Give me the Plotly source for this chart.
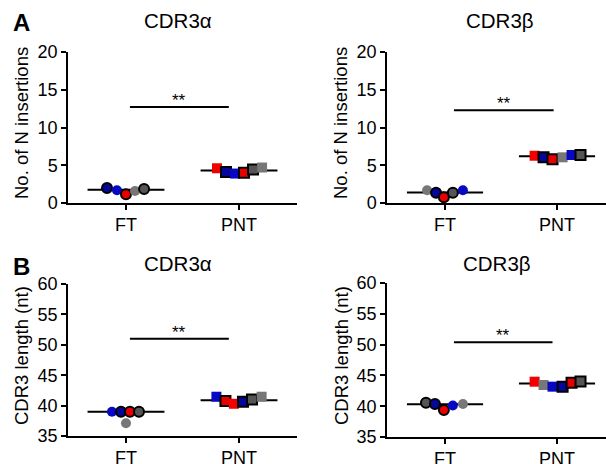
import plotly.graph_objects as go

W, H = 606, 464

# ---------------- data ----------------
categories = ["FT", "PNT"]

# Panel A left: No. of N insertions, CDR3α
a1_ft_off = [-0.168, -0.08, 0.0, 0.08, 0.16]
a1_ft_val = [2.0, 1.7, 1.15, 1.6, 1.85]
a1_ft_col = ["blue", "blue", "red", "gray", "gray"]
a1_ft_brd = [1, 0, 1, 0, 1]
a1_pnt_off = [-0.195, -0.115, -0.035, 0.044, 0.124, 0.204]
a1_pnt_val = [4.6, 4.1, 3.9, 4.0, 4.45, 4.7]
a1_pnt_col = ["red", "blue", "blue", "red", "gray", "gray"]
a1_pnt_brd = [0, 1, 0, 1, 1, 0]
a1_median = [1.75, 4.3]
a1_sig_x = [0.035, 0.91]
a1_sig_y = 12.7

# Panel A right: No. of N insertions, CDR3β
a2_ft_off = [-0.16, -0.08, -0.01, 0.07, 0.16]
a2_ft_val = [1.7, 1.35, 0.75, 1.35, 1.7]
a2_ft_col = ["gray", "blue", "red", "gray", "blue"]
a2_ft_brd = [0, 1, 1, 1, 0]
a2_pnt_off = [-0.2, -0.12, -0.04, 0.05, 0.13, 0.21]
a2_pnt_val = [6.26, 6.05, 5.8, 6.05, 6.36, 6.36]
a2_pnt_col = ["red", "blue", "red", "gray", "blue", "gray"]
a2_pnt_brd = [0, 1, 1, 0, 0, 1]
a2_median = [1.4, 6.2]
a2_sig_x = [0.08, 0.97]
a2_sig_y = 12.3

# Panel B left: CDR3 length, CDR3α
b1_ft_off = [-0.124, -0.044, 0.0, 0.035, 0.115]
b1_ft_val = [39.0, 39.0, 37.1, 39.0, 39.0]
b1_ft_col = ["blue", "blue", "gray", "red", "gray"]
b1_ft_brd = [0, 1, 0, 1, 1]
b1_pnt_off = [-0.2, -0.12, -0.045, 0.035, 0.115, 0.2]
b1_pnt_val = [41.46, 40.76, 40.3, 40.65, 41.0, 41.46]
b1_pnt_col = ["blue", "red", "red", "blue", "gray", "gray"]
b1_pnt_brd = [0, 1, 0, 1, 1, 0]
b1_median = [39.0, 40.9]
b1_sig_x = [0.035, 0.91]
b1_sig_y = 51.0

# Panel B right: CDR3 length, CDR3β
b2_ft_off = [-0.17, -0.09, -0.01, 0.07, 0.16]
b2_ft_val = [40.57, 40.36, 39.4, 40.1, 40.36]
b2_ft_col = ["gray", "blue", "red", "blue", "gray"]
b2_ft_brd = [1, 1, 1, 0, 0]
b2_pnt_off = [-0.2, -0.12, -0.04, 0.05, 0.13, 0.21]
b2_pnt_val = [43.98, 43.44, 43.17, 43.17, 43.8, 44.0]
b2_pnt_col = ["red", "gray", "blue", "blue", "red", "gray"]
b2_pnt_brd = [0, 0, 0, 1, 1, 1]
b2_median = [40.3, 43.7]
b2_sig_x = [0.08, 0.96]
b2_sig_y = 50.4

y_ticks_a = [0, 5, 10, 15, 20]
y_ticks_b = [35, 40, 45, 50, 55, 60]

# ---------------- styling ----------------
FONT = "Arial, Liberation Sans, sans-serif"
COLORS = {"red": "#f20000", "blue": "#0808c4", "gray": "#777777"}
BORDER_FILL = {"red": "#e80000", "blue": "#06069a", "gray": "#555555"}
HALF = 0.34


def px_x(p):
    return p / W


def px_y(p):
    return 1 - p / H


fig = go.Figure()

panels = [
    dict(ax="", ft=(a1_ft_off, a1_ft_val, a1_ft_col, a1_ft_brd),
         pnt=(a1_pnt_off, a1_pnt_val, a1_pnt_col, a1_pnt_brd),
         med=a1_median, sx=a1_sig_x, sy=a1_sig_y),
    dict(ax="2", ft=(a2_ft_off, a2_ft_val, a2_ft_col, a2_ft_brd),
         pnt=(a2_pnt_off, a2_pnt_val, a2_pnt_col, a2_pnt_brd),
         med=a2_median, sx=a2_sig_x, sy=a2_sig_y),
    dict(ax="3", ft=(b1_ft_off, b1_ft_val, b1_ft_col, b1_ft_brd),
         pnt=(b1_pnt_off, b1_pnt_val, b1_pnt_col, b1_pnt_brd),
         med=b1_median, sx=b1_sig_x, sy=b1_sig_y),
    dict(ax="4", ft=(b2_ft_off, b2_ft_val, b2_ft_col, b2_ft_brd),
         pnt=(b2_pnt_off, b2_pnt_val, b2_pnt_col, b2_pnt_brd),
         med=b2_median, sx=b2_sig_x, sy=b2_sig_y),
]

for p in panels:
    xa, ya = "x" + p["ax"], "y" + p["ax"]
    # median lines
    for i, m in enumerate(p["med"]):
        fig.add_trace(go.Scatter(x=[i - HALF, i + HALF], y=[m, m], mode="lines",
                                 line=dict(color="black", width=2), xaxis=xa, yaxis=ya,
                                 showlegend=False, hoverinfo="skip", cliponaxis=False))
    # points
    for i, (grp, sym) in enumerate([(p["ft"], "circle"), (p["pnt"], "square")]):
        off, val, col, brd = grp
        xs = [i + o for o in off]
        fills = [BORDER_FILL[c] if b else COLORS[c] for c, b in zip(col, brd)]
        lws = [2 if b else 0 for b in brd]
        fig.add_trace(go.Scatter(x=xs, y=val, mode="markers",
                                 marker=dict(symbol=sym, size=10,
                                             color=fills,
                                             line=dict(color="black", width=lws)),
                                 xaxis=xa, yaxis=ya, showlegend=False, cliponaxis=False))
    # significance bar
    fig.add_trace(go.Scatter(x=p["sx"], y=[p["sy"], p["sy"]], mode="lines",
                             line=dict(color="black", width=2), xaxis=xa, yaxis=ya,
                             showlegend=False, hoverinfo="skip", cliponaxis=False))
    fig.add_annotation(x=sum(p["sx"]) / 2, y=p["sy"], xref=xa, yref=ya, text="**",
                       showarrow=False, yanchor="bottom", yshift=-5,
                       font=dict(family=FONT, size=17, color="black"))

axis_common = dict(showgrid=False, zeroline=False, showline=True, linecolor="black",
                   linewidth=1.5, ticks="outside", ticklen=5, tickwidth=1.5,
                   tickcolor="black", automargin=False,
                   tickfont=dict(family=FONT, size=18, color="black"))

xl = [px_x(68), px_x(297)]
xr = [px_x(387), 1.0]
ya_dom = [px_y(203), px_y(52)]
yb_l = [px_y(436), px_y(284)]
yb_r = [px_y(437), px_y(283)]

xcat = dict(tickvals=[0, 1], ticktext=categories)

fig.update_layout(
    template="none",
    width=W, height=H, margin=dict(l=0, r=0, t=0, b=0, pad=0), autosize=False,
    paper_bgcolor="white", plot_bgcolor="white", showlegend=False,
    xaxis=dict(domain=xl, range=[-0.513, 1.513], anchor="y", **xcat, **axis_common),
    yaxis=dict(domain=ya_dom, range=[0, 20], tickvals=y_ticks_a, anchor="x", **axis_common),
    xaxis2=dict(domain=xr, range=[-0.518, 1.4375], anchor="y2", **xcat, **axis_common),
    yaxis2=dict(domain=ya_dom, range=[0, 20], tickvals=y_ticks_a, anchor="x2", **axis_common),
    xaxis3=dict(domain=xl, range=[-0.513, 1.513], anchor="y3", **xcat, **axis_common),
    yaxis3=dict(domain=yb_l, range=[35, 60], tickvals=y_ticks_b, anchor="x3", **axis_common),
    xaxis4=dict(domain=xr, range=[-0.518, 1.4375], anchor="y4", **xcat, **axis_common),
    yaxis4=dict(domain=yb_r, range=[35, 60], tickvals=y_ticks_b, anchor="x4", **axis_common),
)

# titles
for txt, x, y in [("CDR3α", 178, 20), ("CDR3β", 500, 20), ("CDR3α", 178, 263), ("CDR3β", 497, 263)]:
    fig.add_annotation(x=px_x(x), y=px_y(y), xref="paper", yref="paper", text=txt,
                       showarrow=False, xanchor="center", yanchor="middle",
                       font=dict(family=FONT, size=20.5, color="black"))
# panel letters
for txt, x, y in [("A", 21, 23), ("B", 21, 266)]:
    fig.add_annotation(x=px_x(x), y=px_y(y), xref="paper", yref="paper", text="<b>" + txt + "</b>",
                       showarrow=False, xanchor="center", yanchor="middle",
                       font=dict(family=FONT, size=24, color="black"))
# y-axis titles
for txt, x, y in [("No. of N insertions", 21, 123), ("No. of N insertions", 340, 123),
                  ("CDR3 length (nt)", 21, 356), ("CDR3 length (nt)", 341, 356)]:
    fig.add_annotation(x=px_x(x), y=px_y(y), xref="paper", yref="paper", text=txt,
                       showarrow=False, xanchor="center", yanchor="middle", textangle=-90,
                       font=dict(family=FONT, size=18.5, color="black"))

fig.write_html("out.html", config={"displayModeBar": False},
               post_script="document.body.style.margin='0px';document.body.style.overflow='hidden';")
